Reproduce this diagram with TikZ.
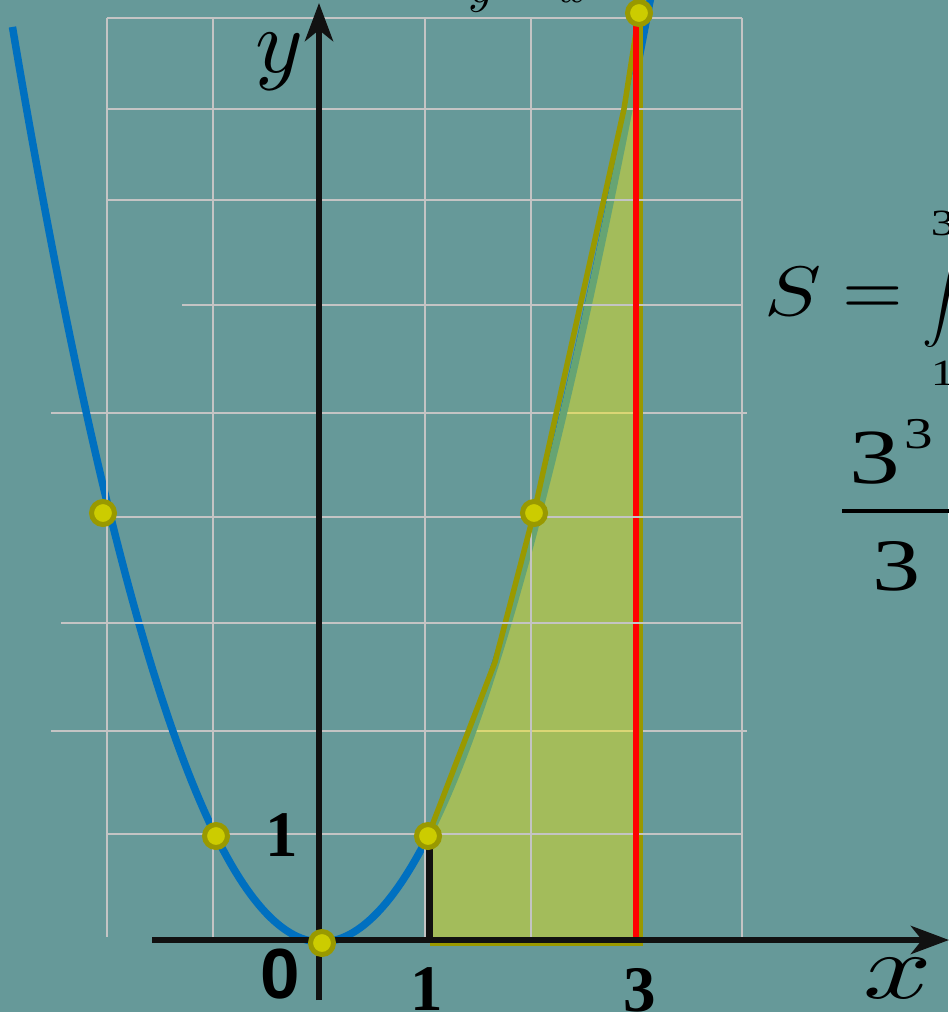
\documentclass[tikz,border=0pt]{standalone}
\usepackage[no-math]{fontspec}
\setmainfont{Liberation Serif}
\newfontfamily\sansfont{Liberation Sans}
\usetikzlibrary{arrows.meta}
\definecolor{bg}{HTML}{669999}
\definecolor{gridc}{HTML}{C4C4C4}
\definecolor{curveblue}{HTML}{0070C0}
\definecolor{olivec}{HTML}{999900}
\definecolor{dotin}{HTML}{CCCC00}
\definecolor{axisc}{HTML}{111111}
\tikzset{
  gridline/.style={gridc, line width=2pt},
  curve/.style={curveblue, line width=7.5pt},
  axisline/.style={axisc, line width=6.5pt, -{Stealth[length=38pt, width=28pt, inset=11pt]}},
  dot/.style={circle, minimum size=23pt, inner sep=0pt, fill=dotin, draw=olivec, line width=5pt},
  lbl/.style={inner sep=0pt, outer sep=0pt, anchor=base, text=black},
}
\begin{document}
\begin{tikzpicture}[x=1pt,y=-1pt]
\fill[bg] (0,0) rectangle (948,1012);
\useasboundingbox (0,0) rectangle (948,1012);

% grid lines lying under the shaded area
\draw[gridline] (51,413) -- (747,413);
\draw[gridline] (51,731) -- (747,731);

% parabola
\draw[curve] plot[domain=30.25:0, samples=80] ({321-10.2*\x},{942-\x*\x})
  -- plot[domain=0:31, samples=100] ({321+10.4*\x+0.113*(\x/10)^4},{942-\x*\x});

% shaded area
\fill[yellow, opacity=0.4] (430,943)
  -- plot[domain=10.77:30.15, samples=80] ({317.5+10.4*\x+0.113*(\x/10)^4},{942-\x*\x})
  -- (641,943) -- cycle;
\draw[olivec, line width=3pt] (430,944) -- (643,944);
\draw[olivec, line width=4pt] (641,14) -- (641,944);

% grid lines over the shaded area
\foreach \gx in {213,424.5,530.5,741.5}{\draw[gridline] (\gx,18) -- (\gx,940);}
\draw[gridline] (107,18) -- (107,937);
\foreach \gy in {18,108.5,199.5,834}{\draw[gridline] (107,\gy) -- (741.5,\gy);}
\draw[gridline] (182,305) -- (741.5,305);

% olive polyline
\draw[olivec, line width=5.5pt, line join=round]
  (428,836) -- (495,662) -- (534,513) -- (624,109) -- (639,13);

% bounds of the area
\draw[axisc, line width=7pt] (429.5,836) -- (429.5,943);
\draw[red, line width=6pt] (636,13) -- (636,940);

% grid lines lying over everything
\draw[gridline] (107,517) -- (741.5,517);
\draw[gridline] (61,623) -- (741.5,623);

% axes
\draw[axisline] (152,940) -- (949,940);
\draw[axisline] (319,1000) -- (319,3);

% points
\node[dot] (pa) at (103,513) {};
\node[dot] (pb) at (216,836) {};
\node[dot] (pc) at (322,943) {};
\node[dot] (pd) at (428,836) {};
\node[dot] (pe) at (534,513) {};
\node[dot] (pf) at (639,13) {};

% axis labels
\node[lbl, scale=9.1] (ylab) at (279,72) {$y$};
\node[lbl, xscale=12, yscale=9.3] (xlab) at (898,998) {$x$};
\node[lbl, font=\sansfont\bfseries\fontsize{71}{71}\selectfont] (zero) at (280,998) {0};
\node[lbl, font=\bfseries\fontsize{65}{65}\selectfont] (oney) at (282,856) {1};
\node[lbl, font=\bfseries\fontsize{65}{65}\selectfont] (onex) at (427,1010) {1};
\node[lbl, font=\bfseries\fontsize{65}{65}\selectfont] (threex) at (640,1011) {3};

% top label (mostly outside the frame)
\node[lbl, scale=5] (flab) at (540,2) {$y=x^2$};

% formula
\node[lbl, xscale=8.5, yscale=7.0] (fS) at (793,315) {$S$};
\node[lbl, scale=7.8] (feq) at (873,315.5) {$=$};
\node[inner sep=0pt, scale=4.73] (fint) at (946,295.5) {$\displaystyle\int$};
\node[lbl, xscale=1.3, font=\fontsize{37}{37}\selectfont] (fup) at (943,235) {3};
\node[lbl, xscale=1.3, font=\fontsize{37}{37}\selectfont] (flow) at (943,385) {1};
\node[lbl, xscale=1.3, font=\fontsize{78}{78}\selectfont] (fnum) at (874.5,483) {3};
\node[lbl, xscale=1.3, font=\fontsize{44}{44}\selectfont] (fsup) at (918.5,448) {3};
\draw[black, line width=3.5pt] (842,511) -- (950,511);
\node[lbl, xscale=1.3, font=\fontsize{74}{74}\selectfont] (fden) at (896.5,590) {3};
\end{tikzpicture}
\end{document}
